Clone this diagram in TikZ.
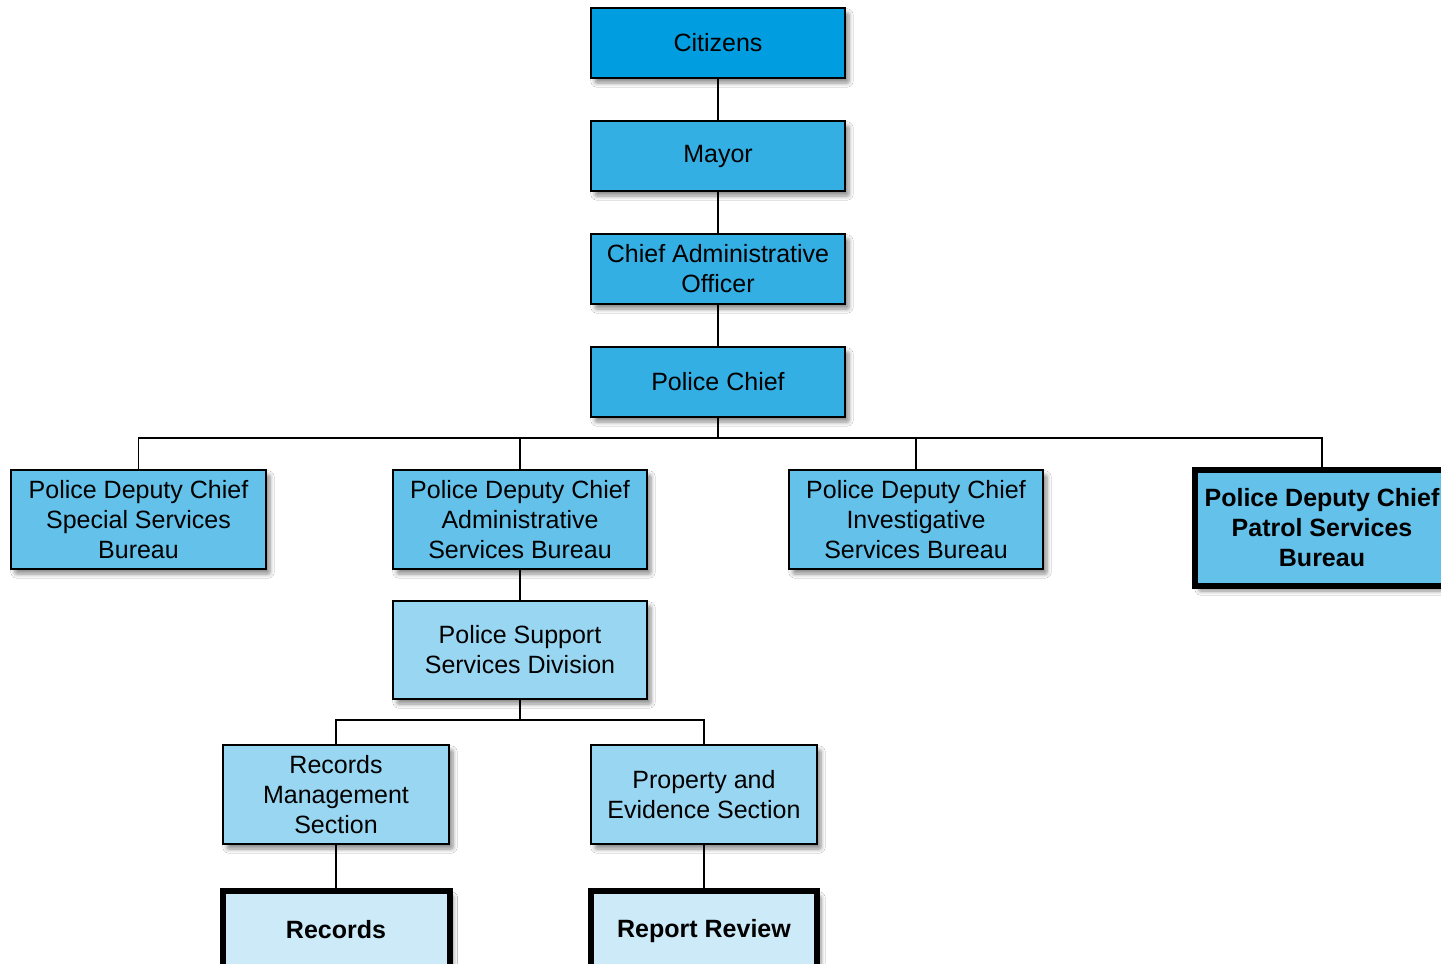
\documentclass[tikz,border=0pt]{standalone}
\usepackage{fontspec}
\setmainfont{Liberation Sans}
\usetikzlibrary{shadows.blur}
\definecolor{tierA}{RGB}{0,158,224}
\definecolor{tierB}{RGB}{51,175,228}
\definecolor{tierC}{RGB}{99,193,234}
\definecolor{tierD}{RGB}{153,214,242}
\definecolor{tierE}{RGB}{204,234,248}
\tikzset{
  orgbox/.style={draw=black, line width=0.75pt, align=center, inner sep=0pt,
    font=\fontsize{12.5}{15}\selectfont,
    blur shadow={shadow xshift=2pt, shadow yshift=-2.5pt, shadow blur steps=6,
      shadow blur extra rounding=1pt, shadow opacity=45}},
  keybox/.style={orgbox, line width=3pt, font=\fontsize{12.5}{15}\selectfont\bfseries},
  link/.style={draw=black, line width=0.75pt},
}
\begin{document}
\begin{tikzpicture}[x=0.5pt, y=-0.5pt]
  \useasboundingbox (0,0) rectangle (1441,964);
  \clip (0,0) rectangle (1441,964);
  \fill[white] (0,0) rectangle (1441,964);

  % top chain
  \node[orgbox, fill=tierA, minimum width=127pt, minimum height=35pt] (citizens) at (718,43) {Citizens};
  \node[orgbox, fill=tierB, minimum width=127pt, minimum height=35pt] (mayor) at (718,156) {Mayor};
  \node[orgbox, fill=tierB, minimum width=127pt, minimum height=35pt] (cao) at (718,269) {Chief Administrative\\Officer};
  \node[orgbox, fill=tierB, minimum width=127pt, minimum height=35pt] (chief) at (718,382) {Police Chief};

  % bureaus
  \node[orgbox, fill=tierC, minimum width=127.5pt, minimum height=49.5pt] (special) at (138.5,519.5) {Police Deputy Chief\\Special Services\\Bureau};
  \node[orgbox, fill=tierC, minimum width=127pt, minimum height=49.5pt] (admin) at (520,519.5) {Police Deputy Chief\\Administrative\\Services Bureau};
  \node[orgbox, fill=tierC, minimum width=127pt, minimum height=49.5pt] (invest) at (916,519.5) {Police Deputy Chief\\Investigative\\Services Bureau};
  \node[keybox, fill=tierC, minimum width=127pt, minimum height=58pt] (patrol) at (1322,528) {Police Deputy Chief\\Patrol Services\\Bureau};

  % support division and sections
  \node[orgbox, fill=tierD, minimum width=127pt, minimum height=49pt] (support) at (520,650) {Police Support\\Services Division};
  \node[orgbox, fill=tierD, minimum width=113pt, minimum height=49.5pt] (recmgmt) at (336,794.5) {Records\\Management\\Section};
  \node[orgbox, fill=tierD, minimum width=113pt, minimum height=49.5pt] (property) at (704,794.5) {Property and\\Evidence Section};
  \node[keybox, fill=tierE, minimum width=113.5pt, minimum height=40pt] (records) at (336,931) {\raisebox{1.5pt}{Records}};
  \node[keybox, fill=tierE, minimum width=113pt, minimum height=40pt] (review) at (704,931) {\raisebox{1.5pt}{Report Review}};

  % connectors
  \coordinate (busA) at (718,438);
  \coordinate (busB) at (520,720);
  \draw[link] (citizens.south) -- (mayor.north);
  \draw[link] (mayor.south) -- (cao.north);
  \draw[link] (cao.south) -- (chief.north);
  \draw[link] (chief.south) -- (busA);
  \draw[link] (special.north) -- (special.north |- busA) -- (patrol.north |- busA) -- (patrol.north);
  \draw[link] (admin.north) -- (admin.north |- busA);
  \draw[link] (invest.north) -- (invest.north |- busA);
  \draw[link] (admin.south) -- (support.north);
  \draw[link] (support.south) -- (busB);
  \draw[link] (recmgmt.north) -- (recmgmt.north |- busB) -- (property.north |- busB) -- (property.north);
  \draw[link] (recmgmt.south) -- (records.north);
  \draw[link] (property.south) -- (review.north);
\end{tikzpicture}
\end{document}
